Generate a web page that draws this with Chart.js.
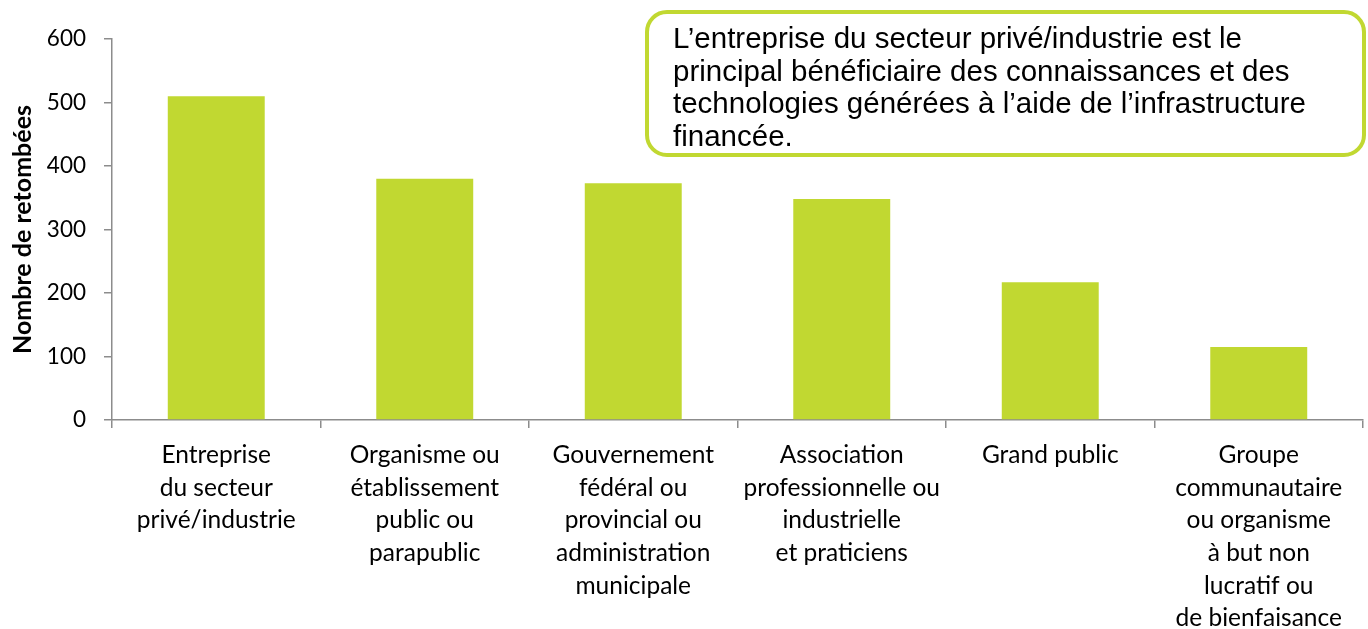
<!DOCTYPE html>
<html>
<head>
<meta charset="utf-8">
<script src="https://cdn.jsdelivr.net/npm/chart.js@4/dist/chart.umd.min.js"></script>
<style>
  html, body { margin: 0; padding: 0; background: #fff; }
  #wrap { position: relative; width: 1368px; height: 629px; }
  canvas { position: absolute; left: 0; top: 0; }
  #note {
    position: absolute; left: 645px; top: 10px; width: 721px; height: 147px;
    box-sizing: border-box; border: 4px solid rgb(193,216,49); border-radius: 22px;
    background: #fff; font-family: "Liberation Sans", Arial, sans-serif; font-size: 29.5px;
    line-height: 32.5px; color: #000; padding: 8px 0 0 24px; white-space: nowrap;
  }
</style>
</head>
<body>
<div id="wrap">
  <canvas id="c" width="1368" height="629"></canvas>
  <div id="note">L’entreprise du secteur privé/industrie est le<br>principal bénéficiaire des connaissances et des<br>technologies générées à l’aide de l’infrastructure<br>financée.</div>
</div>
<script>
const categories = [
  ["Entreprise", "du secteur", "privé/industrie"],
  ["Organisme ou", "établissement", "public ou", "parapublic"],
  ["Gouvernement", "fédéral ou", "provincial ou", "administration", "municipale"],
  ["Association", "professionnelle ou", "industrielle", "et praticiens"],
  ["Grand public"],
  ["Groupe", "communautaire", "ou organisme", "à but non", "lucratif ou", "de bienfaisance"]
];
const values = [510, 380, 373, 348, 217, 115];
const yTitle = "Nombre de retombées";

new Chart(document.getElementById('c'), {
  type: 'bar',
  data: {
    labels: categories,
    datasets: [{
      data: values,
      backgroundColor: 'rgb(193,216,49)',
      borderWidth: 0,
      barPercentage: 0.465,
      categoryPercentage: 1.0
    }]
  },
  options: {
    responsive: false,
    animation: false,
    events: [],
    layout: { padding: { top: 39, right: 5, left: 0, bottom: 0 } },
    plugins: { legend: { display: false }, tooltip: { enabled: false } },
    scales: {
      x: {
        grid: { drawOnChartArea: false, tickLength: 8, color: '#8c8c8c', lineWidth: 1.5, offset: true },
        border: { color: '#8c8c8c', width: 1.5 },
        ticks: {
          color: '#000', maxRotation: 0, autoSkip: false, padding: 11,
          font: { family: 'Lato, "Open Sans", sans-serif', size: 24.5, lineHeight: 1.33 }
        },
        afterFit(scale) { scale.height = 209; }
      },
      y: {
        min: 0, max: 600,
        grid: { drawOnChartArea: false, tickLength: 8, color: '#8c8c8c', lineWidth: 1.5 },
        border: { color: '#8c8c8c', width: 1.5 },
        ticks: {
          stepSize: 100, color: '#000', padding: 18,
          font: { family: 'Lato, "Open Sans", sans-serif', size: 22.5 }
        },
        title: {
          display: true, text: yTitle, color: '#000', padding: { top: 8, bottom: 0 },
          font: { family: 'Lato, "Open Sans", sans-serif', size: 25, weight: 'bold' }
        },
        afterFit(scale) { scale.width = 112; }
      }
    }
  }
});
</script>
</body>
</html>
